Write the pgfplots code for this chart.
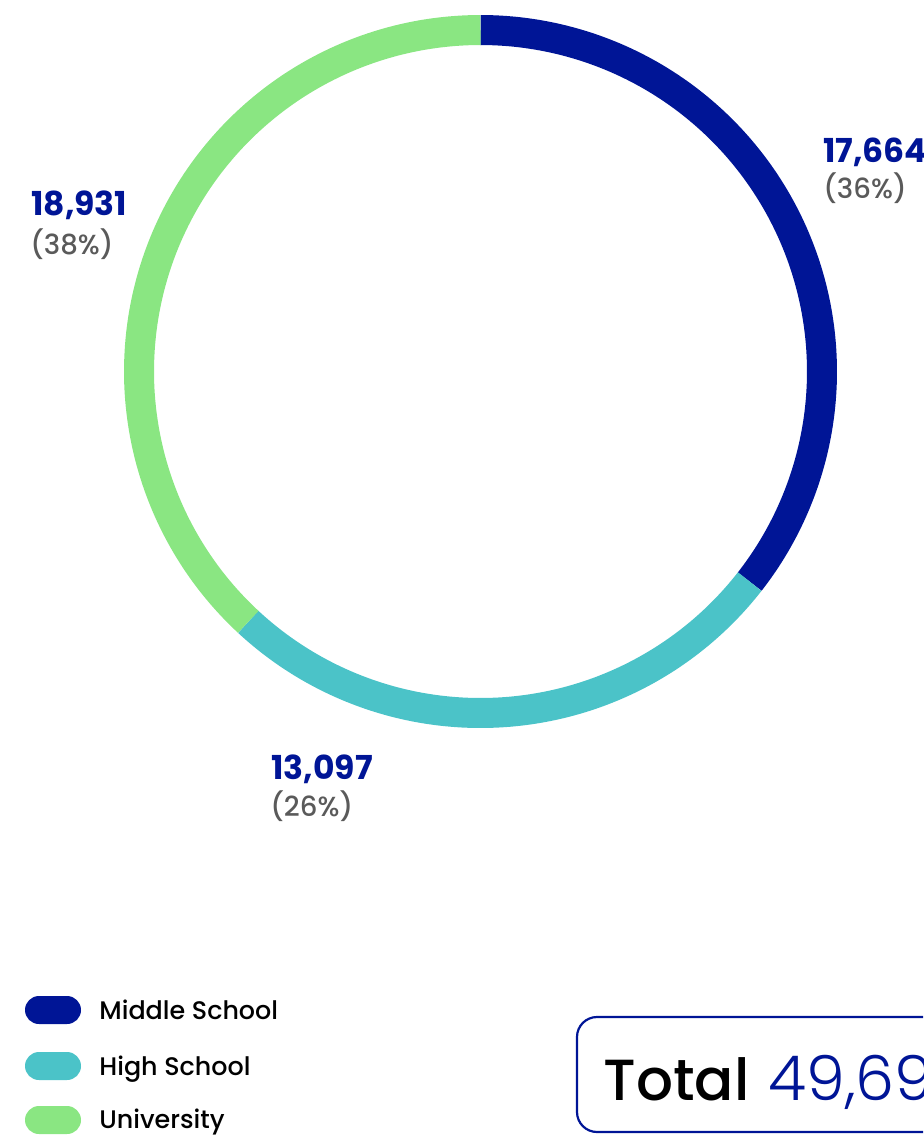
\documentclass[border=0pt]{standalone}
\usepackage{pgfplots}
\pgfplotsset{compat=1.18}
\usepackage{fontspec}
\setmainfont{Poppins}
\newfontfamily\poplight{Poppins Light}
\newfontfamily\popmed{Poppins Medium}
\definecolor{navy}{RGB}{0,21,150}
\definecolor{teal}{RGB}{75,195,200}
\definecolor{lgreen}{RGB}{138,230,130}
\definecolor{pctgray}{RGB}{90,90,90}

% enrolment counts
\def\vMiddle{17664}
\def\vHigh{13097}
\def\vUni{18931}
\edef\vTotal{\fpeval{\vMiddle+\vHigh+\vUni}}
% segment boundaries (degrees), clockwise from the top
\edef\aA{\fpeval{round(90-360*\vMiddle/\vTotal,3)}}
\edef\aB{\fpeval{round(\aA-360*\vHigh/\vTotal,3)}}
\edef\aC{\fpeval{round(\aB-360*\vUni/\vTotal,3)}}

\begin{document}
\begin{tikzpicture}
\useasboundingbox (0,0) rectangle (461.5pt,-568pt);
\clip (0,0) rectangle (461.5pt,-568pt);

\begin{axis}[at={(240.25pt,-185.75pt)}, anchor=center,
  width=341.5pt, height=341.5pt, scale only axis,
  xmin=-1, xmax=1, ymin=-1, ymax=1,
  hide axis, clip=false]
  \addplot[draw=navy, line width=15pt, domain=90:\aA, samples=150, variable=\t] ({cos(t)},{sin(t)});
  \addplot[draw=teal, line width=15pt, domain=\aA:\aB, samples=120, variable=\t] ({cos(t)},{sin(t)});
  \addplot[draw=lgreen, line width=15pt, domain=\aB:\aC, samples=150, variable=\t] ({cos(t)},{sin(t)});
\end{axis}

\begin{scope}[x=0.5pt,y=-0.5pt]
% value labels
\tikzset{val/.style={anchor=base west, inner sep=0pt, text=navy, font=\bfseries\fontsize{16.5}{18}\selectfont},
         pct/.style={anchor=base west, inner sep=0pt, text=pctgray, font=\popmed\fontsize{13.8}{15}\selectfont}}
\node[val] at (823,162) {17,664};
\node[pct] at (823,198) {(36\%)};
\node[val] at (31,215) {18,931};
\node[pct] at (30,254) {(38\%)};
\node[val] at (271,779) {13,097};
\node[pct] at (270,816) {(26\%)};

% legend
\fill[navy, rounded corners=7pt] (25,996) rectangle (81,1024);
\fill[teal, rounded corners=7pt] (25,1052) rectangle (81,1080);
\fill[lgreen, rounded corners=7pt] (25,1106) rectangle (81,1134);
\tikzset{leg/.style={anchor=base west, inner sep=0pt, text=black, font=\popmed\fontsize{12.7}{14}\selectfont}}
\node[leg] at (99,1019) {Middle School};
\node[leg] at (99,1075) {High School};
\node[leg] at (99,1128) {University};

% total box
\draw[navy, line width=1.1pt, rounded corners=10pt] (577,1017) rectangle (990,1132);
\node[anchor=base west, inner sep=0pt, text=black, font=\popmed\fontsize{29}{34}\selectfont] at (603,1100) {Total};
\node[anchor=base west, inner sep=0pt, text=navy, font=\poplight\fontsize{31}{36}\selectfont] at (768,1100) {49,692};
\end{scope}
\end{tikzpicture}
\end{document}
